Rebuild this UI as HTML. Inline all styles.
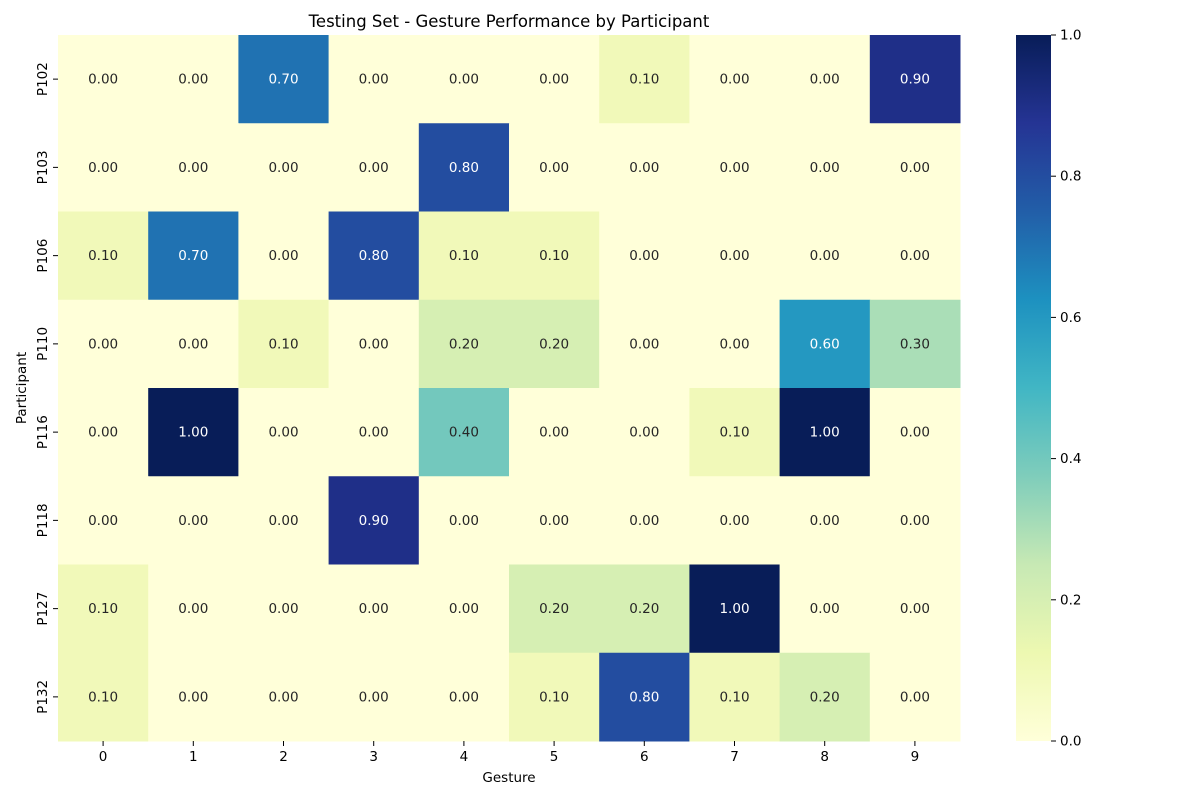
<!DOCTYPE html>
<html><head><meta charset="utf-8"><style>
body{margin:0;background:#fff;font-family:"Liberation Sans","DejaVu Sans",sans-serif}
</style></head><body>
<svg id="chart" width="1200" height="800" xmlns="http://www.w3.org/2000/svg" font-family="DejaVu Sans, Liberation Sans, sans-serif">
<defs><linearGradient id="cb" x1="0" y1="1" x2="0" y2="0">
<stop offset="0" stop-color="#ffffd9"/><stop offset="0.125" stop-color="#edf8b1"/><stop offset="0.25" stop-color="#c7e9b4"/><stop offset="0.375" stop-color="#7fcdbb"/><stop offset="0.5" stop-color="#41b6c4"/><stop offset="0.625" stop-color="#1d91c0"/><stop offset="0.75" stop-color="#225ea8"/><stop offset="0.875" stop-color="#253494"/><stop offset="1" stop-color="#081d58"/></linearGradient></defs>
<text x="509" y="27" text-anchor="middle" font-size="16.5">Testing Set - Gesture Performance by Participant</text>
<g id="cells"></g>
<text x="509" y="782" text-anchor="middle" font-size="13.5">Gesture</text>
<text transform="translate(26,388) rotate(-90)" text-anchor="middle" font-size="13.5">Participant</text>
<rect x="1016" y="35" width="35" height="706" fill="url(#cb)"/>
<g id="cbticks"></g>
</svg>
<script>
const gestures=["0","1","2","3","4","5","6","7","8","9"];
const participants=["P102","P103","P106","P110","P116","P118","P127","P132"];
const values=[
[0,0,0.7,0,0,0,0.1,0,0,0.9],
[0,0,0,0,0.8,0,0,0,0,0],
[0.1,0.7,0,0.8,0.1,0.1,0,0,0,0],
[0,0,0.1,0,0.2,0.2,0,0,0.6,0.3],
[0,1,0,0,0.4,0,0,0.1,1,0],
[0,0,0,0.9,0,0,0,0,0,0],
[0.1,0,0,0,0,0.2,0.2,1,0,0],
[0.1,0,0,0,0,0.1,0.8,0.1,0.2,0]];
const cbTicks=[0,0.2,0.4,0.6,0.8,1.0];
const X0=58,X1=960,Y0=35,Y1=741;
const cw=(X1-X0)/gestures.length, ch=(Y1-Y0)/participants.length;
const xPos=i=>X0+i*cw, yPos=j=>Y0+j*ch;
const stops=["#ffffd9","#edf8b1","#c7e9b4","#7fcdbb","#41b6c4","#1d91c0","#225ea8","#253494","#081d58"];
function hex(h){return [1,3,5].map(i=>parseInt(h.substr(i,2),16));}
function color(v){const t=Math.max(0,Math.min(1,v))*8;const i=Math.min(7,Math.floor(t));const f=t-i;const a=hex(stops[i]),b=hex(stops[i+1]);return a.map((c,k)=>Math.round(c+(b[k]-c)*f));}
function relLum(c){const l=c.map(x=>{x/=255;return x<=0.03928?x/12.92:Math.pow((x+0.055)/1.055,2.4);});return 0.2126*l[0]+0.7152*l[1]+0.0722*l[2];}
const NS="http://www.w3.org/2000/svg";
const g=document.getElementById('cells');
function mk(tag,attrs,parent){const e=document.createElementNS(NS,tag);for(const k in attrs)e.setAttribute(k,attrs[k]);parent.appendChild(e);return e;}
values.forEach((row,j)=>row.forEach((v,i)=>{
 const c=color(v);
 const r=mk('rect',{x:xPos(i),y:yPos(j),width:cw+0.5,height:ch+0.5,fill:`rgb(${c})`},g);
 
 
 const t=mk('text',{x:xPos(i)+cw/2,y:yPos(j)+ch/2+4.5,'text-anchor':'middle','font-size':13.5,fill:relLum(c)>0.408?'#262626':'#fff'},g);
 t.textContent=v.toFixed(2);
 
 
}));
gestures.forEach((s,i)=>{
 mk('line',{x1:xPos(i)+cw/2,x2:xPos(i)+cw/2,y1:Y1,y2:Y1+5,stroke:'#000'},g);
 const t=mk('text',{x:xPos(i)+cw/2,y:Y1+20,'text-anchor':'middle','font-size':13.5},g);
 t.textContent=s;
 
 
});
participants.forEach((s,j)=>{
 const y=yPos(j)+ch/2;
 mk('line',{x1:X0-5,x2:X0,y1:y,y2:y,stroke:'#000'},g);
 const t=mk('text',{transform:`translate(${X0-11},${y}) rotate(-90)`,'text-anchor':'middle','font-size':13.5},g);
 t.textContent=s;
 
 
});
const cg=document.getElementById('cbticks');
cbTicks.forEach(v=>{
 const y=Y1-v*(Y1-Y0);
 mk('line',{x1:1051,x2:1056,y1:y,y2:y,stroke:'#000'},cg);
 const t=mk('text',{x:1060,y:y+4.5,'font-size':13.5},cg);
 t.textContent=v.toFixed(1);
 
 
});
</script>
</body></html>
